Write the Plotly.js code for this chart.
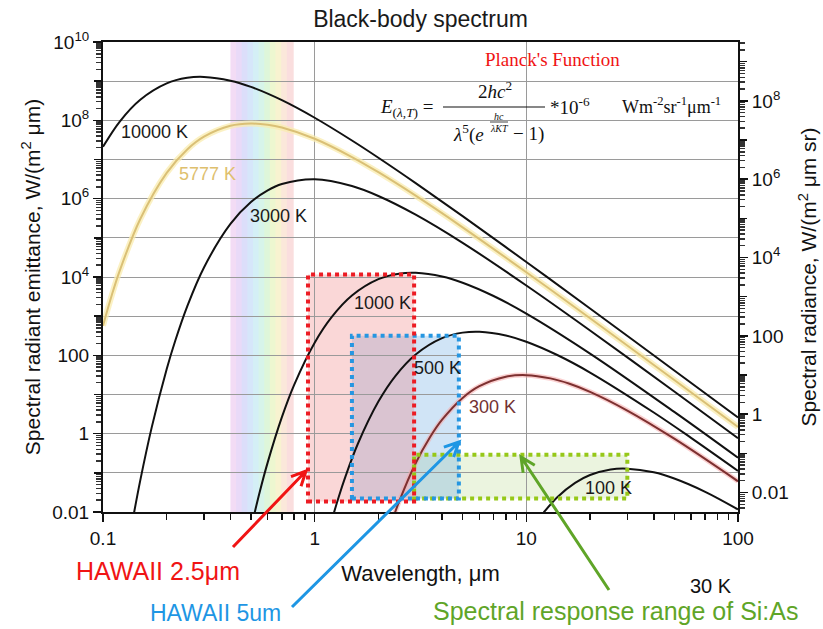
<!DOCTYPE html>
<html><head><meta charset="utf-8">
<script src="https://cdn.plot.ly/plotly-3.0.1.min.js"></script>
<style>html,body{margin:0;padding:0;background:#fff}</style>
</head><body><div id="chart" style="width:823px;height:629px"></div>
<script>
// ---------- data ----------
const curveNames = ['10000 K','5777 K','3000 K','1000 K','500 K','300 K','100 K'];
const wl_10000 = [0.1,0.12,0.15,0.2,0.25,0.3,0.4,0.5,0.7,1,1.5,2,3,5,10,20,50,100];
const em_10000 = [2.11e7,9.33e7,3.36e8,8.79e8,1.217e9,1.283e9,1.03e9,7.14e8,3.27e8,1.164e8,3.06e7,1.11e7,2.50e6,3.59e5,2.42e4,1568,41.0,2.58];
const wl_5777 = [0.1,0.11,0.12,0.15,0.2,0.25,0.3,0.4,0.5,0.6,0.7,1,1.5,2,3,5,10,20,50,100];
const em_5777 = [571,3414,1.458e4,3.03e5,4.57e6,1.807e7,3.82e7,7.24e7,8.28e7,7.70e7,6.53e7,3.38e7,1.156e7,4.73e6,1.19e6,1.855e5,1.323e4,882,23.5,1.48];
const wl_3000 = [0.14,0.15,0.17,0.2,0.22,0.25,0.3,0.4,0.5,0.6,0.7,1,1.5,2,3,5,10,20,50,100];
const em_3000 = [0.0092,0.0643,1.47,45.0,247,1786,1.756e4,2.27e5,8.18e5,1.626e6,2.36e6,3.12e6,2.10e6,1.169e6,3.90e5,7.44e4,6080,432,11.9,0.762];
const wl_1000 = [0.5,0.55,0.6,0.7,0.8,1,1.2,1.5,2,2.5,3,4,5,7,10,20,50,100];
const em_1000 = [0.0038,0.0324,0.185,2.64,17.7,211,933,3364,8789,1.217e4,1.283e4,1.03e4,7139,3269,1164,111,3.59,0.242];
const wl_500 = [1.2,1.3,1.4,1.6,2,2.4,3,4,5,6,8,10,14,20,40,60,100];
const em_500 = [0.0058,0.0246,0.0824,0.552,6.60,29.2,105,275,380,401,322,223,102,36.4,3.47,0.782,0.112];
const wl_300 = [2.3,2.5,3,3.5,4,5,6,8,10,13,16,20,30,50,100];
const em_300 = [0.0051,0.0179,0.176,0.797,2.27,8.18,16.3,28.5,31.2,25.8,18.8,11.7,3.90,0.744,0.0608];
const wl_100 = [11.5,12,14,17,20,25,30,40,50,70,100];
const em_100 = [0.0069,0.0093,0.0239,0.0556,0.0879,0.122,0.128,0.103,0.0714,0.0327,0.0116];

// detector ranges (wavelength um, emittance)
const detNames = ['HAWAII 2.5μm','HAWAII 5um','Spectral response range of Si:As'];
const detX0 = [0.93, 1.5, 2.95];
const detX1 = [2.95, 4.8, 30];
const detY0 = [0.0186, 0.022, 0.022];
const detY1 = [1.15e4, 316, 0.29];

const visibleBand = [0.40, 0.785];
const rainbowColors = ['#f3dcf5','#e9daf8','#dcdefa','#d6e6fa','#d4eff6','#d7f4ea','#def6da','#edf7d0','#f8f3d0','#fbe8da','#fadede'];

const xTickVals = [0.1,1,10,100];
const xTickText = ['0.1','1','10','100'];
const yTickVals = [0.01,1,100,1e4,1e6,1e8,1e10];
const yTickText = ['0.01','1','100','10<sup>4</sup>','10<sup>6</sup>','10<sup>8</sup>','10<sup>10</sup>'];
const yOddDecades = [0.1,10,1e3,1e5,1e7,1e9];
const y2TickVals = [0.01,1,100,1e4,1e6,1e8];
const y2TickText = ['0.01','1','100','10<sup>4</sup>','10<sup>6</sup>','10<sup>8</sup>'];
const y2OddDecades = [0.1,10,1e3,1e5,1e7,1e9];

// ---------- layout geometry ----------
const L=103, T=42, W=635, H=470;
const px = p => (p-L)/W;
const py = p => (T+H-p)/H;
const lx = v => (Math.log10(v)+1)/3;
const ly = v => (Math.log10(v)+2)/12;

const black = '#111';
const traces = [];
function addCurve(x, y, color, width, glow, glowW){
  if(glow) traces.push({x:x,y:y,type:'scatter',mode:'lines',line:{color:glow,width:glowW,shape:'spline'},hoverinfo:'skip',showlegend:false});
  traces.push({x:x,y:y,type:'scatter',mode:'lines',line:{color:color,width:width,shape:'spline'},showlegend:false});
}
addCurve(wl_10000, em_10000, black, 2);
addCurve(wl_5777, em_5777, 'rgb(218,192,118)', 2, 'rgba(250,236,175,0.75)', 6);
addCurve(wl_3000, em_3000, black, 2);
addCurve(wl_1000, em_1000, black, 2);
addCurve(wl_500, em_500, black, 2);
addCurve(wl_300, em_300, 'rgb(125,48,48)', 2, 'rgba(245,170,170,0.55)', 5);
addCurve(wl_100, em_100, black, 2);
['y2','y3','y4'].forEach(a=>traces.push({x:[],y:[],type:'scatter',mode:'lines',yaxis:a,showlegend:false}));

const shapes = [];
// rainbow
const nb = rainbowColors.length;
const b0 = Math.log10(visibleBand[0]), b1 = Math.log10(visibleBand[1]);
for(let i=0;i<nb;i++){
  const a = Math.pow(10, b0 + (b1-b0)*i/nb), b = Math.pow(10, b0 + (b1-b0)*(i+1)/nb);
  shapes.push({type:'rect',xref:'paper',yref:'paper',x0:lx(a),x1:lx(b)+0.002,y0:0,y1:1,fillcolor:rainbowColors[i],line:{width:0},layer:'below'});
}
// formula white box
shapes.push({type:'rect',xref:'paper',yref:'paper',x0:px(373),x1:px(731),y0:py(155),y1:py(43),fillcolor:'#ffffff',line:{width:0},layer:'between'});
// detector boxes
const detFill = ['rgba(240,130,130,0.32)','rgba(100,165,225,0.30)','rgba(165,205,110,0.22)'];
const detLine = ['rgb(236,28,36)','rgb(38,150,225)','rgb(150,200,25)'];
const order = [2,1,0];
order.forEach(i=>{
  shapes.push({type:'rect',xref:'paper',yref:'paper',x0:lx(detX0[i]),x1:lx(detX1[i]),y0:ly(detY0[i]),y1:ly(detY1[i]),fillcolor:detFill[i],line:{width:0},layer:'between'});
});
order.forEach(i=>{
  shapes.push({type:'rect',xref:'paper',yref:'paper',x0:lx(detX0[i]),x1:lx(detX1[i]),y0:ly(detY0[i]),y1:ly(detY1[i]),line:{color:detLine[i],width:4,dash:'dot'},layer:'above'});
});
// arrows (open V heads)
function arrow(tx,ty,hx,hy,color){
  const ang = Math.atan2(hy-ty, hx-tx), len=16, sp=0.45;
  const a1x = hx - len*Math.cos(ang-sp), a1y = hy - len*Math.sin(ang-sp);
  const a2x = hx - len*Math.cos(ang+sp), a2y = hy - len*Math.sin(ang+sp);
  const P=(x,y)=>px(x).toFixed(5)+','+py(y).toFixed(5);
  shapes.push({type:'path',xref:'paper',yref:'paper',path:'M'+P(tx,ty)+' L'+P(hx,hy)+' M'+P(a1x,a1y)+' L'+P(hx,hy)+' L'+P(a2x,a2y),line:{color:color,width:3},layer:'above'});
}
arrow(233,547,306,471,'rgb(240,20,20)');
arrow(292,607,459,442,'rgb(30,150,228)');
arrow(609,590,521,457,'rgb(95,165,40)');
// fraction lines
shapes.push({type:'line',xref:'paper',yref:'paper',x0:px(443),x1:px(545),y0:py(107),y1:py(107),line:{color:'#111',width:1.2},layer:'above'});
shapes.push({type:'line',xref:'paper',yref:'paper',x0:px(490),x1:px(508),y0:py(122),y1:py(122),line:{color:'#111',width:0.8},layer:'above'});

const annotations = [];
function ann(text,x,y,size,color,extra){
  annotations.push(Object.assign({text:text,xref:'paper',yref:'paper',x:px(x),y:py(y),xanchor:'center',yanchor:'middle',showarrow:false,font:{size:size,color:color,family:'Liberation Sans, Arial, sans-serif'}},extra||{}));
}
const serif = 'Liberation Serif, Times New Roman, serif';
// curve labels
const labelPos = [[154,132],[207,174],[278,216],[382,303],[437,368],[492,407],[608,488]];
const labelCol = ['#1a1a1a','rgb(222,192,110)','#1a1a1a','#1a1a1a','#1a1a1a','rgb(115,50,50)','#1a1a1a'];
curveNames.forEach((n,i)=>ann(n,labelPos[i][0],labelPos[i][1],18,labelCol[i]));
// detector labels
ann(detNames[0],158,571,25,'rgb(240,20,20)');
ann(detNames[1],215,613,23,'rgb(30,150,228)');
ann(detNames[2],615,611,25,'rgb(95,165,40)');
ann('30 K',711,586,20,'#111');
// formula
ann("Planck's Function",552,59,19,'rgb(240,20,20)',{font:{size:19,color:'rgb(240,20,20)',family:serif}});
const fF = {size:19,color:'#111',family:serif};
ann('<i>E</i><sub>(<i>λ</i>,<i>T</i>)</sub> =',406,108,19,'#111',{font:fF});
ann('2<i>hc</i><sup>2</sup>',495,90,19,'#111',{font:fF});
ann('<i>λ</i><sup>5</sup>(<i>e</i>',486,134,19,'#111',{font:fF,xanchor:'right'});
ann('− 1)',511,134,19,'#111',{font:fF,xanchor:'left'});
ann('<i>hc</i>',499,116,10,'#111',{font:{size:10,color:'#111',family:serif}});
ann('<i>λKT</i>',499,128,10,'#111',{font:{size:10,color:'#111',family:serif}});
ann('*10<sup>-6</sup>',570,106,19,'#111',{font:fF});
ann('Wm<sup>-2</sup>sr<sup>-1</sup>μm<sup>-1</sup>',671,106,18,'#111',{font:{size:18,color:'#111',family:serif}});

const tickFont = {size:19,color:'#111',family:'Liberation Sans, Arial, sans-serif'};
const minorY = {ticks:'outside',ticklen:5,tickcolor:'#333',dtick:'D1',showgrid:false};
const y2range = [Math.log10(0.01/Math.PI),Math.log10(1e10/Math.PI)];
const layout = {
  width:823,height:629,
  margin:{l:L,r:823-L-W,t:T,b:629-T-H,pad:0},
  paper_bgcolor:'#fff',plot_bgcolor:'#fff',
  showlegend:false,
  font:{family:'Liberation Sans, Arial, sans-serif',color:'#111'},
  title:{text:'Black-body spectrum',x:0.5,xref:'paper',xanchor:'center',y:1-19/629,yref:'container',yanchor:'middle',font:{size:23,color:'#1a1a1a'}},
  xaxis:{type:'log',range:[-1,2],tickmode:'array',tickvals:xTickVals,ticktext:xTickText,ticks:'outside',ticklen:8,tickwidth:1.5,tickcolor:'#111',
    showline:true,linecolor:'#111',linewidth:2,mirror:true,showgrid:true,gridcolor:'#9a9a9a',gridwidth:1,zeroline:false,
    minor:{ticks:'outside',ticklen:6,tickcolor:'#111',dtick:'D1',showgrid:false},
    tickfont:tickFont,title:{text:'Wavelength, μm',font:{size:22,color:'#111'},standoff:18}},
  yaxis:{type:'log',range:[-2,10],tickmode:'array',tickvals:yTickVals,ticktext:yTickText,ticks:'outside',ticklen:8,tickwidth:1.5,tickcolor:'#111',
    showline:true,linecolor:'#111',linewidth:2,showgrid:true,gridcolor:'#9a9a9a',gridwidth:1,zeroline:false,
    minor:minorY,tickfont:tickFont,title:{text:'Spectral radiant emittance, W/(m<sup>2</sup> μm)',font:{size:21,color:'#111'},standoff:6}},
  yaxis3:{type:'log',overlaying:'y',side:'left',range:[-2,10],tickmode:'array',tickvals:yOddDecades,showticklabels:false,ticks:'outside',ticklen:8,tickwidth:1.5,tickcolor:'#111',
    showline:false,showgrid:true,gridcolor:'#9a9a9a',gridwidth:1,zeroline:false},
  yaxis2:{type:'log',overlaying:'y',side:'right',range:y2range,tickmode:'array',tickvals:y2TickVals,ticktext:y2TickText,
    ticks:'outside',ticklen:8,tickwidth:1.5,tickcolor:'#111',showline:true,linecolor:'#111',linewidth:2,showgrid:false,zeroline:false,
    minor:minorY,tickfont:tickFont,title:{text:'Spectral radiance, W/(m<sup>2</sup> μm sr)',font:{size:21,color:'#111'},standoff:14}},
  yaxis4:{type:'log',overlaying:'y',side:'right',range:y2range,tickmode:'array',tickvals:y2OddDecades,showticklabels:false,
    ticks:'outside',ticklen:8,tickwidth:1.5,tickcolor:'#111',showline:false,showgrid:false,zeroline:false},
  shapes:shapes,annotations:annotations
};
Plotly.newPlot('chart',traces,layout,{displayModeBar:false,staticPlot:true});
</script></body></html>
